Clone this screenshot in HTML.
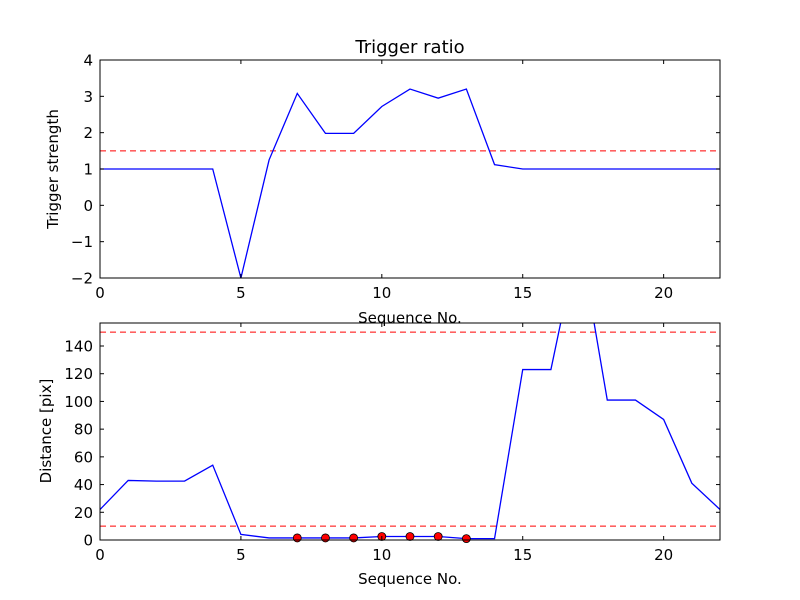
<!DOCTYPE html>
<html><head><meta charset="utf-8"><style>
body{margin:0;background:#fff;}
svg{display:block;font-family:"DejaVu Sans","Liberation Sans",sans-serif;}
</style></head><body>
<svg id="c" width="800" height="600"></svg>
<script>
const seq=[0,1,2,3,4,5,6,7,8,9,10,11,12,13,14,15,16,17,18,19,20,21,22];
const strength=[1,1,1,1,1,-2,1.25,3.08,1.98,1.98,2.72,3.2,2.95,3.2,1.12,1,1,1,1,1,1,1,1];
const strengthThreshold=1.5;
const distance=[22,43,42.5,42.5,54,4,1.5,1.5,1.5,1.5,2.5,2.5,2.5,1,1,123,123,220,101,101,87,41,22];
const markIdx=[7,8,9,10,11,12,13];
const distLow=10, distHigh=150;
const xTicks=[0,5,10,15,20];
const yTicks1=[-2,-1,0,1,2,3,4];
const yTickLabels1=["\u22122","\u22121","0","1","2","3","4"];
const yTicks2=[0,20,40,60,80,100,120,140];

const NS="http://www.w3.org/2000/svg";
const svg=document.getElementById('c');
function mk(t,a,p){const e=document.createElementNS(NS,t);for(const k in a)e.setAttribute(k,a[k]);(p||svg).appendChild(e);return e;}
const L=100,R=720;
const sx=v=>L+(v-0)/22*(R-L);
function panel(top,bot,ymin,ymax,name){
  const sy=v=>bot-(v-ymin)/(ymax-ymin)*(bot-top);
  const g=mk('g',{});
  
  
  return {g,sy};
}
function axes(p,top,bot,yt,ylab,xname){
  const g=p.g;
  const f=mk('rect',{x:L,y:top,width:R-L,height:bot-top,fill:'none',stroke:'#000','stroke-width':1},g);
  
  xTicks.forEach(t=>{const x=sx(t);
    mk('line',{x1:x,x2:x,y1:bot,y2:bot-4,stroke:'#000'},g);
    mk('line',{x1:x,x2:x,y1:top,y2:top+4,stroke:'#000'},g);
    const tx=mk('text',{x:x,y:bot+20,'text-anchor':'middle','font-size':15},g);tx.textContent=t;
    });
  yt.forEach((t,i)=>{const y=p.sy(t);
    mk('line',{x1:L,x2:L+4,y1:y,y2:y,stroke:'#000'},g);
    mk('line',{x1:R,x2:R-4,y1:y,y2:y,stroke:'#000'},g);
    const tx=mk('text',{x:L-7,y:y+5.5,'text-anchor':'end','font-size':15},g);tx.textContent=ylab?ylab[i]:t;
    });
}
// top
const p1=panel(60,278,-2,4,'top-panel');
const clip1=mk('clipPath',{id:'c1'});mk('rect',{x:L,y:60,width:R-L,height:218},clip1);
let h=mk('line',{x1:L,x2:R,y1:p1.sy(strengthThreshold),y2:p1.sy(strengthThreshold),stroke:'#f00','stroke-dasharray':'6,4'},p1.g);

let l1=mk('polyline',{points:seq.map((s,i)=>sx(s)+','+p1.sy(strength[i])).join(' '),fill:'none',stroke:'#00f','stroke-width':1.3,'clip-path':'url(#c1)'},p1.g);

axes(p1,60,278,yTicks1,yTickLabels1,'top');
let t=mk('text',{x:410,y:53,'text-anchor':'middle','font-size':18},p1.g);t.textContent='Trigger ratio';

t=mk('text',{x:410,y:323,'text-anchor':'middle','font-size':15},p1.g);t.textContent='Sequence No.';

t=mk('text',{x:58,y:169,'text-anchor':'middle','font-size':15,transform:'rotate(-90 58 169)'},p1.g);t.textContent='Trigger strength';

// bottom
const p2=panel(323,540,0,156.6,'bottom-panel');
const clip2=mk('clipPath',{id:'c2'});mk('rect',{x:L,y:323,width:R-L,height:217},clip2);
[distLow,distHigh].forEach(v=>{const e=mk('line',{x1:L,x2:R,y1:p2.sy(v),y2:p2.sy(v),stroke:'#f00','stroke-dasharray':'6,4'},p2.g);
  });
let l2=mk('polyline',{points:seq.map((s,i)=>sx(s)+','+p2.sy(distance[i])).join(' '),fill:'none',stroke:'#00f','stroke-width':1.3,'clip-path':'url(#c2)'},p2.g);

markIdx.forEach(i=>{const c=mk('circle',{cx:sx(seq[i]),cy:p2.sy(distance[i]),r:4,fill:'#f00',stroke:'#000','stroke-width':0.8},p2.g);
  });
axes(p2,323,540,yTicks2,null,'bottom');
t=mk('text',{x:410,y:584,'text-anchor':'middle','font-size':15},p2.g);t.textContent='Sequence No.';

t=mk('text',{x:51,y:431,'text-anchor':'middle','font-size':15,transform:'rotate(-90 51 431)'},p2.g);t.textContent='Distance [pix]';

</script>
</body></html>
